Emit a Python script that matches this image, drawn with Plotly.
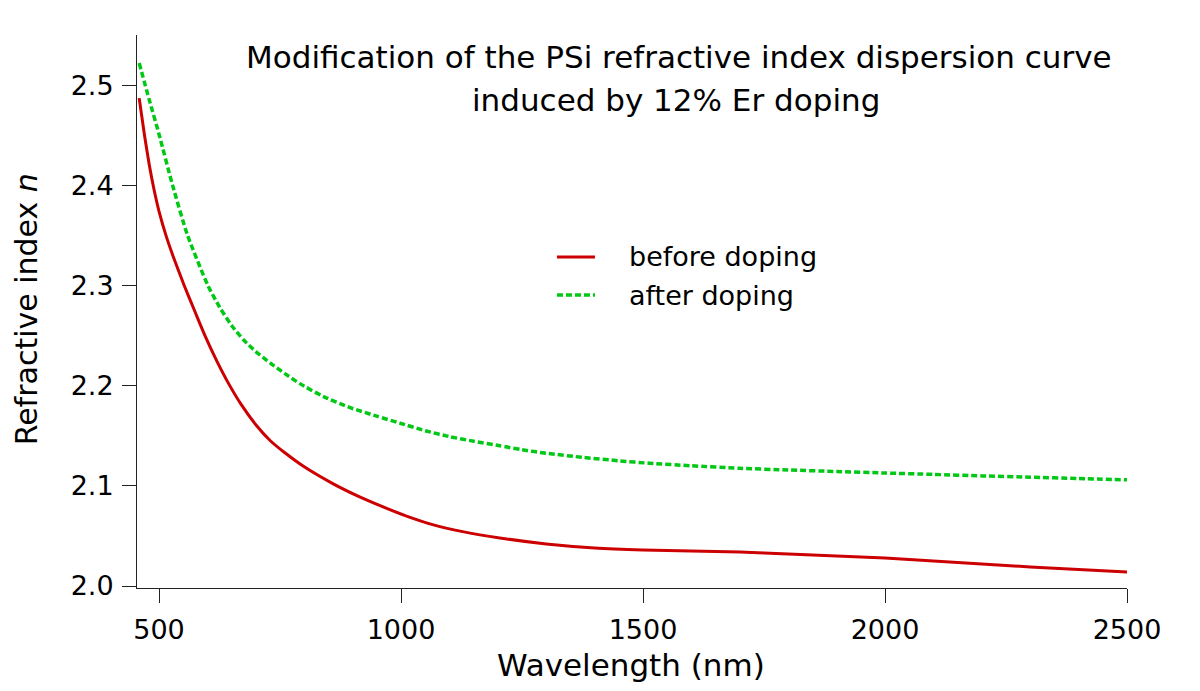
import plotly.graph_objects as go

# Wavelength (nm) and refractive index
wl_before = [459, 470, 480, 490, 500, 515, 530, 552, 575, 594, 620, 645, 670,
             700, 730, 760, 800, 860, 910, 963, 1010, 1067, 1130, 1204, 1300,
             1400, 1500, 1600, 1700, 1800, 1900, 2000, 2100, 2200, 2300, 2400,
             2500]
n_before = [2.487, 2.450, 2.420, 2.395, 2.374, 2.349, 2.328, 2.300, 2.273,
            2.251, 2.224, 2.201, 2.181, 2.161, 2.145, 2.133, 2.119, 2.102,
            2.090, 2.079, 2.070, 2.061, 2.054, 2.048, 2.042, 2.038, 2.036,
            2.035, 2.034, 2.032, 2.030, 2.028, 2.025, 2.022, 2.019, 2.0165,
            2.014]

wl_after = [459, 480, 500, 528, 559, 601, 625, 650, 675, 700, 730, 760, 791,
            840, 895, 950, 998, 1050, 1101, 1150, 1204, 1250, 1300, 1377, 1450,
            1514, 1600, 1700, 1800, 1900, 2000, 2100, 2200, 2300, 2400, 2500]
n_after = [2.522, 2.485, 2.451, 2.400, 2.350, 2.300, 2.2785, 2.260, 2.2455,
           2.234, 2.2225, 2.212, 2.202, 2.189, 2.178, 2.1695, 2.1625, 2.155,
           2.149, 2.1445, 2.140, 2.136, 2.1325, 2.1283, 2.125, 2.1225, 2.120,
           2.1175, 2.1158, 2.1143, 2.1128, 2.1114, 2.1099, 2.1086, 2.1073,
           2.106]

x_ticks = [500, 1000, 1500, 2000, 2500]
y_ticks = [2.0, 2.1, 2.2, 2.3, 2.4, 2.5]

FONT = "DejaVu Sans"
AX = "#222222"
RED = "#cc0000"
GREEN = "#00c814"
GREEN_DASH = "6px,3px"

fig = go.Figure()
fig.add_trace(go.Scatter(x=wl_before, y=n_before, mode="lines",
                         name="before doping", showlegend=False,
                         line=dict(color=RED, width=3, shape="spline",
                                   smoothing=0.6)))
fig.add_trace(go.Scatter(x=wl_after, y=n_after, mode="lines",
                         name="after doping", showlegend=False,
                         line=dict(color=GREEN, width=3.5, dash=GREEN_DASH,
                                   shape="spline", smoothing=0.6)))

# hand-built legend (line samples + labels) in paper coordinates
legend_items = [("before doping", RED, "solid", 3, 0.5986),
                ("after doping", GREEN, GREEN_DASH, 3.5, 0.5298)]
shapes = []
annotations = []
for label, color, dash, width, yy in legend_items:
    shapes.append(dict(type="line", xref="paper", yref="paper",
                       x0=0.4242, x1=0.4626, y0=yy, y1=yy,
                       line=dict(color=color, width=width, dash=dash)))
    annotations.append(dict(text=label, xref="paper", yref="paper",
                            x=0.495, y=yy, xanchor="left", yanchor="middle",
                            showarrow=False,
                            font=dict(family=FONT, size=27, color="black")))

annotations += [
    dict(text="Modification of the PSi refractive index dispersion curve",
         xref="paper", yref="paper", x=0.5475, y=0.960, xanchor="center",
         yanchor="middle", showarrow=False, font=dict(family=FONT, size=31)),
    dict(text="induced by 12% Er doping",
         xref="paper", yref="paper", x=0.5445, y=0.882, xanchor="center",
         yanchor="middle", showarrow=False, font=dict(family=FONT, size=31)),
    dict(text="Wavelength (nm)", xref="paper", yref="paper", x=0.499,
         y=-0.139, xanchor="center", yanchor="middle", showarrow=False,
         font=dict(family=FONT, size=31)),
    dict(text="Refractive index <i>n</i>", xref="paper", yref="paper",
         x=-0.1303, y=0.503, xanchor="left", yanchor="middle",
         textangle=-90, showarrow=False, borderpad=0,
         font=dict(family=FONT, size=30)),
]

fig.update_layout(
    width=1200, height=691,
    margin=dict(l=129, r=81, t=27, b=111),
    paper_bgcolor="white", plot_bgcolor="white",
    font=dict(family=FONT, size=27, color="black"),
    showlegend=False,
    xaxis=dict(range=[454.5, 2500], tickvals=x_ticks, showline=True,
               linecolor=AX, linewidth=1, ticks="outside", ticklen=14,
               tickcolor=AX, tickwidth=1, showgrid=False, zeroline=False,
               ticklabelstandoff=4,
               tickfont=dict(family=FONT, size=27, color="black")),
    yaxis=dict(range=[1.998, 2.55], tickvals=y_ticks, tickformat=".1f",
               showline=True, linecolor=AX, linewidth=1, ticks="outside",
               ticklen=14, tickcolor=AX, tickwidth=1, showgrid=False,
               zeroline=False, ticklabelstandoff=3,
               tickfont=dict(family=FONT, size=27, color="black")),
    shapes=shapes,
    annotations=annotations,
)

fig.write_html("out.html")
